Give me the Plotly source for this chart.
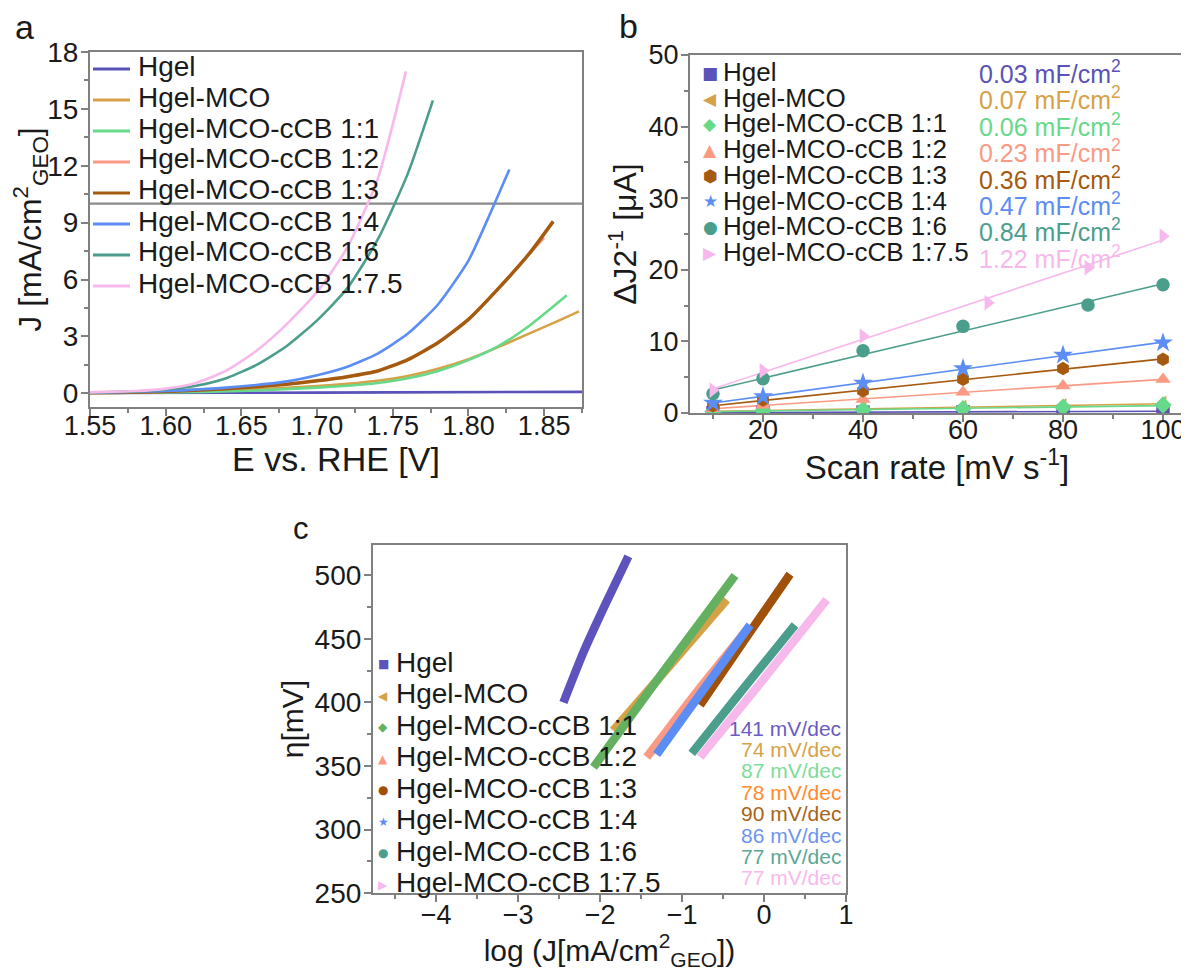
import numpy as np
import plotly.graph_objects as go

# page body keeps its default 8px margin, so the figure is sized to fit the window
OFF = 8
W, H = 1189 - OFF, 973 - OFF
FONT = "Liberation Sans, Arial, Helvetica, sans-serif"
SYMFONT = "DejaVu Sans"

# ---------------- series names / colours ----------------
names = ["Hgel", "Hgel-MCO", "Hgel-MCO-cCB 1:1", "Hgel-MCO-cCB 1:2",
         "Hgel-MCO-cCB 1:3", "Hgel-MCO-cCB 1:4", "Hgel-MCO-cCB 1:6",
         "Hgel-MCO-cCB 1:7.5"]
colors = ["#5a52b8", "#d6a247", "#66d98a", "#fa9a84",
          "#a65a10", "#5b8df5", "#4c9e8c", "#f7b8ec"]
colors_c = ["#5e52bc", "#d6a247", "#63b060", "#fa9a84",
            "#a05008", "#5b8df5", "#4c9e8c", "#f7b8ec"]

# ---------------- panel a: LSV curves ----------------
E_hgel = [1.55, 1.65, 1.75, 1.875]
J_hgel = [0.02, 0.03, 0.05, 0.08]
E_mco = [1.55, 1.60, 1.65, 1.70, 1.72, 1.74, 1.76, 1.78, 1.80, 1.82, 1.84, 1.86, 1.873]
J_mco = [0.03, 0.08, 0.18, 0.38, 0.50, 0.66, 0.92, 1.30, 1.80, 2.45, 3.15, 3.85, 4.32]
E_11 = [1.55, 1.60, 1.65, 1.70, 1.72, 1.74, 1.76, 1.78, 1.80, 1.82, 1.84, 1.865]
J_11 = [0.02, 0.05, 0.12, 0.30, 0.40, 0.55, 0.80, 1.18, 1.75, 2.50, 3.55, 5.17]
E_12 = [1.55, 1.60, 1.64, 1.68, 1.70, 1.72, 1.74, 1.76, 1.78, 1.80, 1.82, 1.84, 1.85]
J_12 = [0.03, 0.10, 0.24, 0.48, 0.66, 0.88, 1.18, 1.78, 2.68, 3.90, 5.55, 7.35, 8.20]
E_13 = [1.55, 1.60, 1.64, 1.68, 1.70, 1.72, 1.74, 1.76, 1.78, 1.80, 1.82, 1.84, 1.856]
J_13 = [0.03, 0.10, 0.24, 0.48, 0.66, 0.88, 1.18, 1.78, 2.68, 3.90, 5.55, 7.35, 9.07]
E_14 = [1.55, 1.60, 1.64, 1.68, 1.70, 1.72, 1.74, 1.76, 1.78, 1.80, 1.815, 1.827]
J_14 = [0.03, 0.12, 0.30, 0.63, 0.95, 1.40, 2.10, 3.15, 4.70, 7.00, 9.60, 11.80]
E_16 = [1.55, 1.58, 1.60, 1.62, 1.64, 1.66, 1.68, 1.70, 1.72, 1.74, 1.76, 1.7765]
J_16 = [0.05, 0.10, 0.20, 0.40, 0.80, 1.50, 2.50, 3.85, 5.55, 8.10, 11.60, 15.45]
E_175 = [1.55, 1.58, 1.60, 1.62, 1.64, 1.66, 1.68, 1.70, 1.72, 1.74, 1.7587]
J_175 = [0.05, 0.12, 0.25, 0.55, 1.20, 2.25, 3.65, 5.35, 7.70, 11.30, 16.98]
J_ref = 10  # reference current density line

# ---------------- panel b: double-layer capacitance ----------------
scan = [10, 20, 40, 60, 80, 100]
dJ_hgel = [0.05, 0.08, 0.12, 0.16, 0.20, 0.25]
dJ_mco = [0.25, 0.35, 0.60, 0.80, 1.00, 1.35]
dJ_11 = [0.20, 0.30, 0.45, 0.60, 0.80, 1.10]
dJ_12 = [0.60, 1.10, 1.90, 2.90, 3.80, 4.70]
dJ_13 = [1.00, 1.80, 3.10, 4.70, 6.20, 7.50]
dJ_14 = [1.40, 2.30, 4.20, 6.20, 8.10, 9.80]
scan_16 = [10, 20, 40, 60, 85, 100]
dJ_16 = [2.70, 4.80, 8.70, 12.10, 15.10, 17.90]
scan_175 = [10, 20, 40, 65, 85, 100]
dJ_175 = [3.20, 5.90, 10.75, 15.40, 20.30, 24.70]
cdl_labels = ["0.03", "0.07", "0.06", "0.23", "0.36", "0.47", "0.84", "1.22"]

# ---------------- panel c: Tafel plots ----------------
logJ_hgel = [-2.447, -2.20, -1.93, -1.655]
eta_hgel = [400, 440, 478, 515]
logJ_mco = [-1.84, -1.15, -0.455]
eta_mco = [378, 429, 481]
logJ_11 = [-2.08, -1.22, -0.354]
eta_11 = [349, 425, 500]
logJ_12 = [-1.43, -0.80, -0.20]
eta_12 = [357, 410, 458]
logJ_13 = [-0.78, -0.23, 0.317]
eta_13 = [398, 450, 501]
logJ_14 = [-1.31, -0.74, -0.171]
eta_14 = [359, 410, 461]
logJ_16 = [-0.882, -0.25, 0.378]
eta_16 = [360, 411, 461]
logJ_175 = [-0.78, -0.01, 0.765]
eta_175 = [357, 418, 481]
tafel_labels = ["141", "74", "87", "78", "90", "86", "77", "77"]
tafel_colors = ["#6a5cc0", "#d6a247", "#7edc9a", "#ff8a30",
                "#a86418", "#6c94f0", "#5ba894", "#f7b8ec"]

lsv_E = [E_hgel, E_mco, E_11, E_12, E_13, E_14, E_16, E_175]
lsv_J = [J_hgel, J_mco, J_11, J_12, J_13, J_14, J_16, J_175]
cdl_x = [scan, scan, scan, scan, scan, scan, scan_16, scan_175]
cdl_y = [dJ_hgel, dJ_mco, dJ_11, dJ_12, dJ_13, dJ_14, dJ_16, dJ_175]
taf_x = [logJ_hgel, logJ_mco, logJ_11, logJ_12, logJ_13, logJ_14, logJ_16, logJ_175]
taf_y = [eta_hgel, eta_mco, eta_11, eta_12, eta_13, eta_14, eta_16, eta_175]
b_symbols = ["square", "triangle-left", "diamond", "triangle-up",
             "hexagon", "star", "circle", "triangle-right"]
b_glyphs = ["■", "◀", "◆", "▲", "⬢", "★", "●", "▶"]
c_glyphs = ["■", "◀", "◆", "▲", "●", "★", "●", "▶"]


def px(x):
    return (x - OFF) / W


def py(y):
    return 1 - (y - OFF) / H


fig = go.Figure()

# panel a
for i in range(8):
    fig.add_trace(go.Scatter(
        x=lsv_E[i], y=lsv_J[i], mode="lines", xaxis="x", yaxis="y",
        line=dict(color=colors[i], width=3.5 if i == 4 else 2.6,
                  shape="spline", smoothing=0.6),
        showlegend=False, hoverinfo="skip"))

# panel b
for i in range(8):
    xs = np.array(cdl_x[i], dtype=float)
    k, b0 = np.polyfit(xs, np.array(cdl_y[i], dtype=float), 1)
    xl = np.array([xs.min(), xs.max()])
    fig.add_trace(go.Scatter(
        x=xl, y=k * xl + b0, mode="lines", xaxis="x2", yaxis="y2",
        line=dict(color=colors[i], width=1.6), showlegend=False,
        hoverinfo="skip"))
for i in range(8):
    fig.add_trace(go.Scatter(
        x=cdl_x[i], y=cdl_y[i], mode="markers", xaxis="x2", yaxis="y2",
        marker=dict(symbol=b_symbols[i], color=colors[i],
                    size=15 if b_symbols[i] == "star" else 13.5,
                    line=dict(width=0)),
        showlegend=False, hoverinfo="skip"))

# panel c
for i in range(8):
    fig.add_trace(go.Scatter(
        x=taf_x[i], y=taf_y[i], mode="lines", xaxis="x3", yaxis="y3",
        line=dict(color=colors_c[i], width=8.5, shape="spline", smoothing=0.6),
        showlegend=False, hoverinfo="skip"))

AXC = "#808080"


def axis(domain, rng, tick0, dtick, mtick, anchor, title, tfs, titlefs,
         standoff, lab_off, fmt=None):
    d = dict(domain=domain, range=rng, tick0=tick0, dtick=dtick,
             automargin=False,
             showline=True, mirror=True, linecolor=AXC, linewidth=2.2,
             ticks="outside", ticklen=7, tickwidth=2, tickcolor=AXC,
             minor=dict(tick0=tick0, dtick=mtick, ticks="outside", ticklen=4,
                        tickwidth=1.5, tickcolor=AXC),
             showgrid=False, zeroline=False, anchor=anchor,
             ticklabelstandoff=lab_off,
             tickfont=dict(size=tfs, color="#1a1a1a", family=FONT),
             title=dict(text=title, font=dict(size=titlefs, color="#1a1a1a",
                                              family=FONT), standoff=standoff))
    if fmt:
        d["tickformat"] = fmt
    return d


layout = dict(
    width=W, height=H,
    margin=dict(l=0, r=0, t=0, b=0, pad=0, autoexpand=False),
    paper_bgcolor="white", plot_bgcolor="white",
    font=dict(family=FONT, color="#1a1a1a"),
    xaxis=axis([px(90), px(582)], [1.55, 1.875], 1.55, 0.05, 0.025, "y",
               "E vs. RHE [V]", 27, 34, 0, -14, ".2f"),
    yaxis=axis([py(407), py(52)], [-0.72, 18], 0, 3, 1.5, "x",
               "J [mA/cm<sup>2</sup><sub>GEO</sub>]", 28, 32, 2, -3),
    xaxis2=axis([px(690), px(1184)], [5.4, 104.2], 0, 20, 10, "y2",
                "Scan rate [mV s<sup>-1</sup>]", 27, 33, 0, -16),
    yaxis2=axis([py(413), py(55)], [0, 50], 0, 10, 5, "x2",
                "ΔJ2<sup>-1</sup> [μA]", 27, 32, 2, -3),
    xaxis3=axis([px(373), px(846)], [-4.77, 1.0], 0, 1, 0.5, "y3",
                "log (J[mA/cm<sup>2</sup><sub>GEO</sub>])", 27, 30, 0, -11),
    yaxis3=axis([py(893), py(545)], [250, 524], 250, 50, 25, "x3",
                "η[mV]", 28, 30, 2, -3),
)

shapes = [dict(type="line", xref="x domain", x0=0, x1=1, yref="y",
               y0=J_ref, y1=J_ref, line=dict(color="#8a8a8a", width=2.2),
               layer="below")]
annotations = []

# panel letters
for letter, x, y, s in [("a", 24, 27, 34), ("b", 628, 26, 34), ("c", 301, 528, 31)]:
    annotations.append(dict(text=letter, x=px(x), y=py(y), xref="paper",
                            yref="paper", showarrow=False, xanchor="center",
                            yanchor="middle", font=dict(size=s, color="#1a1a1a")))

# panel a legend (line keys + labels)
for i in range(8):
    yy = 66 + 31.0 * i
    shapes.append(dict(type="line", xref="paper", yref="paper",
                       x0=px(93), x1=px(130), y0=py(yy + 3), y1=py(yy + 3),
                       line=dict(color=colors[i], width=3)))
    annotations.append(dict(text=names[i], x=px(136), y=py(yy), xref="paper",
                            yref="paper", showarrow=False, xanchor="left",
                            yanchor="middle", font=dict(size=28, color="#1a1a1a")))

# panel b legend and Cdl labels
for i in range(8):
    yy = 72 + 25.7 * i
    annotations.append(dict(text=b_glyphs[i], x=px(710), y=py(yy + 1),
                            xref="paper", yref="paper", showarrow=False,
                            xanchor="center", yanchor="middle",
                            font=dict(size=17, color=colors[i], family=SYMFONT)))
    annotations.append(dict(text=names[i], x=px(721), y=py(yy), xref="paper",
                            yref="paper", showarrow=False, xanchor="left",
                            yanchor="middle", font=dict(size=26, color="#1a1a1a")))
    annotations.append(dict(text=cdl_labels[i] + " mF/cm<sup>2</sup>",
                            x=px(977), y=py(72 + 26.4 * i), xref="paper",
                            yref="paper", showarrow=False, xanchor="left",
                            yanchor="middle", font=dict(size=25, color=colors[i])))

# panel c legend and Tafel slopes
for i in range(8):
    yy = 662 + 31.5 * i
    annotations.append(dict(text=c_glyphs[i], x=px(383), y=py(yy + 2),
                            xref="paper", yref="paper", showarrow=False,
                            xanchor="center", yanchor="middle",
                            font=dict(size=12, color=colors_c[i], family=SYMFONT)))
    annotations.append(dict(text=names[i], x=px(394), y=py(yy), xref="paper",
                            yref="paper", showarrow=False, xanchor="left",
                            yanchor="middle", font=dict(size=28, color="#1a1a1a")))
    annotations.append(dict(text=tafel_labels[i] + " mV/dec", x=px(843),
                            y=py(728 + 21.4 * i), xref="paper", yref="paper",
                            showarrow=False, xanchor="right", yanchor="middle",
                            font=dict(size=21, color=tafel_colors[i])))

layout["shapes"] = shapes
layout["annotations"] = annotations
fig.update_layout(**layout)
fig.write_html("out.html")
